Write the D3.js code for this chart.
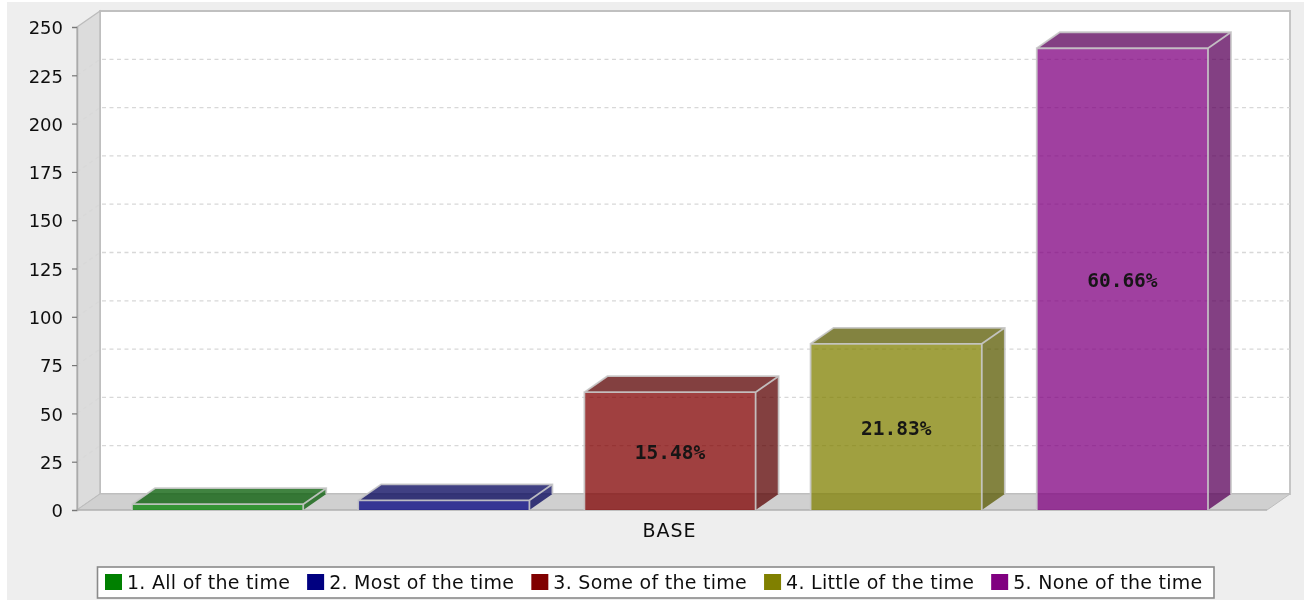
<!DOCTYPE html>
<html><head><meta charset="utf-8">
<script src="https://cdnjs.cloudflare.com/ajax/libs/d3/7.8.5/d3.min.js"></script>
<style>html,body{margin:0;padding:0;background:#fff}svg{display:block}</style>
</head><body><svg id="c" width="1304" height="600"></svg>
<script>
const categories = ["1. All of the time","2. Most of the time","3. Some of the time","4. Little of the time","5. None of the time"];
const counts = [3,5,61,86,239];
const percentLabels = ["","","15.48%","21.83%","60.66%"];
const barColors = ["#008000","#000080","#800000","#808000","#800080"];
const yTicks = [0,25,50,75,100,125,150,175,200,225,250];
const axisLabel = "BASE";

const svg = d3.select("#c");
const F = "'DejaVu Sans',sans-serif";
const dx = 23, dy = -16;
const L = 77, R = 1267, B = 510;
const y = d3.scaleLinear().domain([0,250]).range([B,27]);
const x = d3.scaleBand().domain(categories).range([132,1208]).paddingInner(0.243).paddingOuter(0);
const root = svg.append("g").attr("filter","url(#soft)");
svg.append("defs").append("filter").attr("id","soft").attr("x",0).attr("y",0).attr("width",1).attr("height",1)
   .append("feGaussianBlur").attr("stdDeviation",0.5);

root.append("rect").attr("x",7).attr("y",2).attr("width",1297).attr("height",598).attr("fill","#eeeeee");
const poly = (pts,fill,stroke,sw) => root.append("polygon").attr("points",pts.map(p=>p.join(",")).join(" "))
   .attr("fill",fill).attr("stroke",stroke||"none").attr("stroke-width",sw||0);

// back wall, left wall, floor
poly([[L+dx,y(250)+dy],[R+dx,y(250)+dy],[R+dx,B+dy],[L+dx,B+dy]],"#ffffff","#c0c0c0",1.8);
poly([[L,y(250)],[L+dx,y(250)+dy],[L+dx,B+dy],[L,B]],"#dcdcdc","#bcbcbc",1.4);
poly([[L,B],[L+dx,B+dy],[R+dx,B+dy],[R,B]],"#d0d0d0","#bdbdbd",1);

// gridlines
const grid = root.append("g").attr("fill","none").attr("stroke","#d8d8d8").attr("stroke-width",1.3).attr("stroke-dasharray","4,3.5");
yTicks.filter(t=>t>0 && t<250).forEach(t=>{
  grid.append("path").attr("d",d3.line()([[L,y(t)],[L+dx,y(t)+dy],[R+dx,y(t)+dy]]));
});

// y axis
const axis = root.append("g").attr("transform",`translate(${L},0)`)
  .call(d3.axisLeft(y).tickValues(yTicks).tickSize(5).tickPadding(9));
axis.select(".domain").attr("stroke","#aaaaaa").attr("stroke-width",1.5);
axis.selectAll(".tick line").attr("stroke","#777777").attr("stroke-width",1.2);
axis.selectAll("text").attr("font-family",F).attr("font-size",18).attr("fill","#111").attr("transform","translate(0,1)");
root.append("line").attr("x1",L).attr("x2",R).attr("y1",B).attr("y2",B).attr("stroke","#aaaaaa").attr("stroke-width",1.2);

// bars
const dark = c => { const k=d3.rgb(c); return d3.rgb(k.r*0.7,k.g*0.7,k.b*0.7).formatHex(); };
const bars = root.append("g").selectAll("g").data(categories).join("g");
bars.each(function(c,i){
  const g = d3.select(this), x0 = x(c), x1 = x0+x.bandwidth(), t = y(counts[i]);
  const p = (pts,fill) => g.append("polygon").attr("points",pts.map(q=>q.join(",")).join(" "))
     .attr("fill",fill).attr("fill-opacity",0.75);
  p([[x1,t],[x1+dx,t+dy],[x1+dx,B+dy],[x1,B]],dark(barColors[i]));
  p([[x0,t],[x0+dx,t+dy],[x1+dx,t+dy],[x1,t]],dark(barColors[i]));
  p([[x0,t],[x1,t],[x1,B],[x0,B]],barColors[i]);
  g.append("path").attr("d",`M${x0},${B}V${t}H${x1}V${B}M${x1},${t}L${x1+dx},${t+dy}M${x1+dx},${B+dy}V${t+dy}H${x0+dx}L${x0},${t}`)
   .attr("fill","none").attr("stroke","#c8c8c8").attr("stroke-width",1.8).attr("stroke-opacity",0.9);
});
bars.append("text").text((c,i)=>percentLabels[i])
  .attr("x",c=>x(c)+x.bandwidth()/2).attr("y",(c,i)=>(y(counts[i])+B)/2+8)
  .attr("text-anchor","middle").attr("font-family","'DejaVu Sans Mono',monospace").attr("font-weight","bold")
  .attr("font-size",19.5).attr("fill","#111").attr("fill-opacity",0.95);

// category label
root.append("text").text(axisLabel).attr("x",669.5).attr("y",537).attr("text-anchor","middle")
  .attr("font-family",F).attr("font-size",19).attr("letter-spacing",1).attr("fill","#111");

// legend
const lg = root.append("g");
lg.append("rect").attr("x",97.5).attr("y",567).attr("width",1116.5).attr("height",31)
  .attr("fill","#fff").attr("stroke","#8a8a8a").attr("stroke-width",1.6);
let cx = 105;
categories.forEach((c,i)=>{
  lg.append("rect").attr("x",cx).attr("y",574).attr("width",17).attr("height",16).attr("fill",barColors[i]);
  const t = lg.append("text").text(c).attr("x",cx+22).attr("y",589).attr("font-family",F).attr("font-size",19)
    .attr("letter-spacing",0.27).attr("fill","#111");
  cx += 22 + t.node().getComputedTextLength() + 17;
});
</script></body></html>
